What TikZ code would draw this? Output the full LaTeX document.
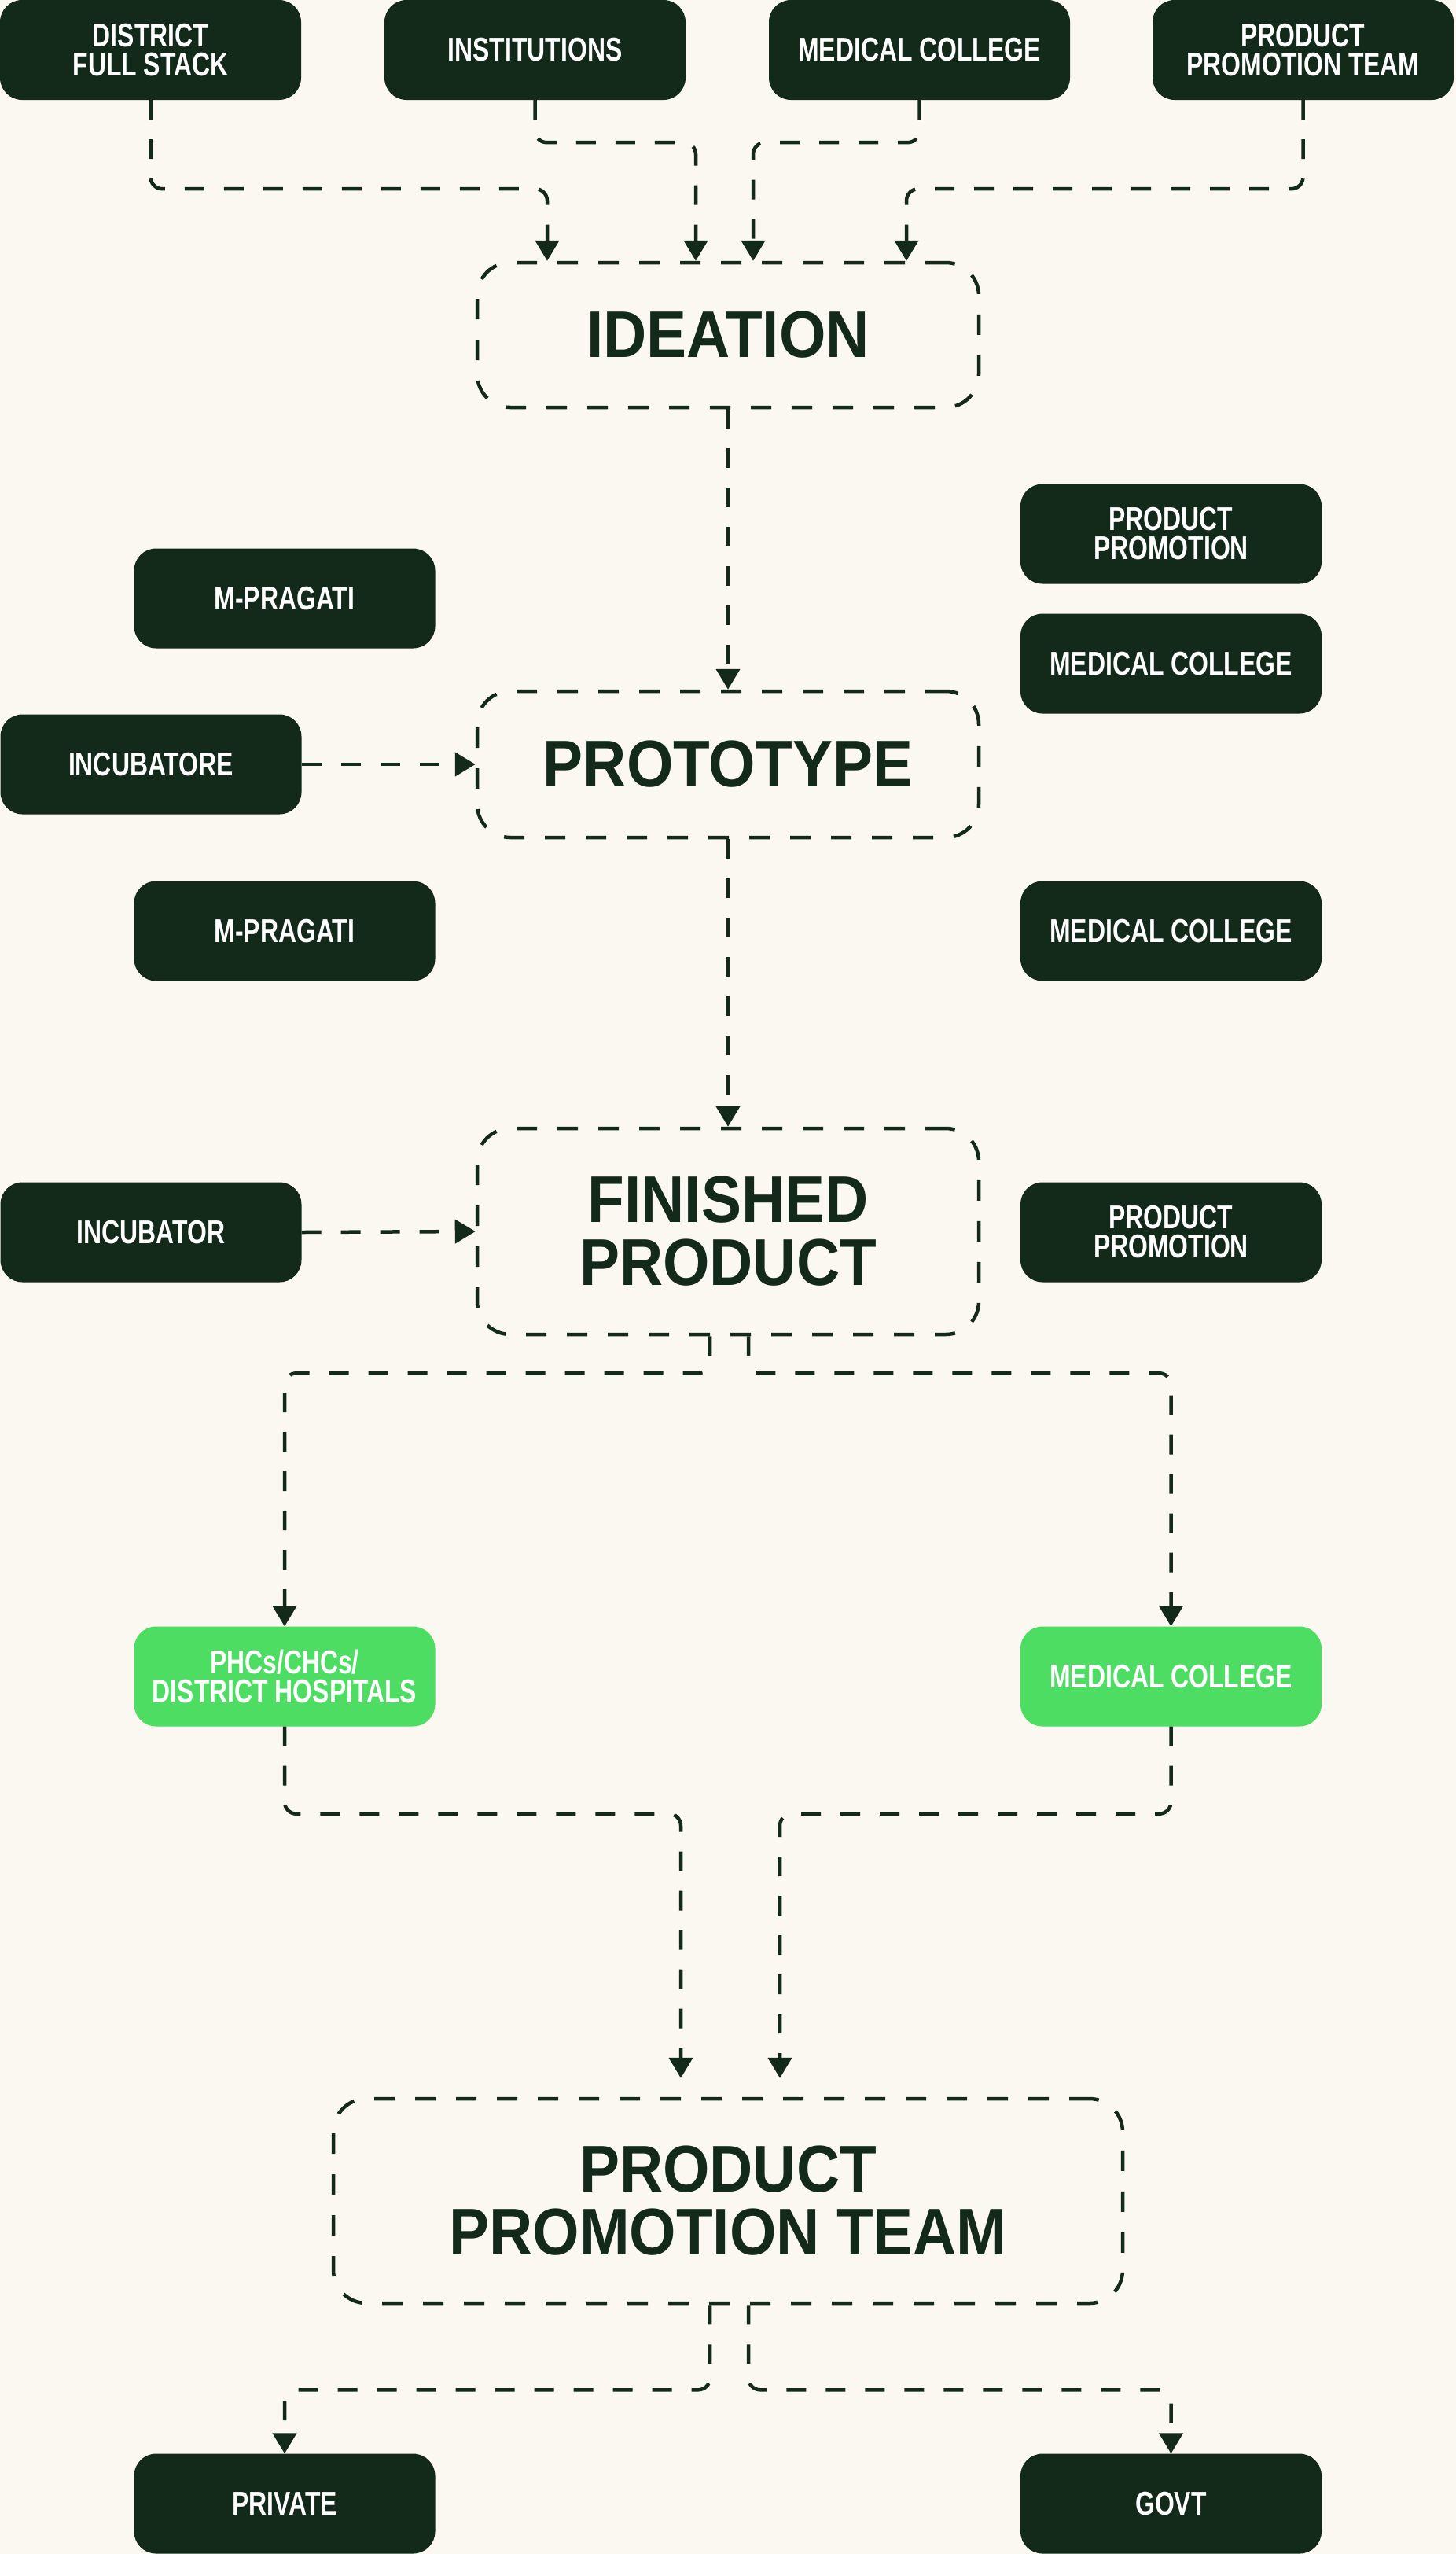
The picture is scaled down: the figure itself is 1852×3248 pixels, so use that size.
\documentclass[tikz,border=0pt]{standalone}
\usepackage{fontspec}
\setmainfont{Liberation Sans}
\newfontfamily\condfont[FakeStretch=0.76,UprightFont={* Bold}]{Liberation Sans}
\newfontfamily\bigfont[FakeStretch=0.91,UprightFont={* Bold}]{Liberation Sans}
\usetikzlibrary{arrows.meta}
\definecolor{dark}{HTML}{132A1B}
\definecolor{leaf}{HTML}{4CDD62}
\definecolor{paper}{HTML}{FBF7F1}
\tikzset{
  darkbox/.style={fill=dark, rounded corners=28pt, minimum width=383pt, minimum height=127pt,
    text=white, font=\condfont\fontsize{42}{37}\selectfont, align=center, inner sep=0pt},
  greenbox/.style={darkbox, fill=leaf},
  stage/.style={draw=dark, line width=4.5pt, dash pattern=on 26pt off 26pt, rounded corners=42pt,
    minimum width=638pt, text=dark, font=\bigfont\fontsize{84}{80}\selectfont, align=center, inner sep=0pt},
  conn/.style={draw=dark, line width=4.5pt, dash pattern=on 25pt off 25pt, rounded corners=15pt,
    -{Triangle[width=30pt,length=26pt]}}
}
\begin{document}
\begin{tikzpicture}[x=1pt,y=-1pt]
\fill[paper] (0,0) rectangle (1852,3248);
\useasboundingbox (0,0) rectangle (1852,3248);
% top sources
\node[darkbox] (dfs) at (191.5,63.5) {DISTRICT\\FULL STACK};
\node[darkbox] (inst) at (680.5,63.5) {INSTITUTIONS};
\node[darkbox] (mc0) at (1169.5,63.5) {MEDICAL COLLEGE};
\node[darkbox] (ppt0) at (1657.5,63.5) {PRODUCT\\PROMOTION TEAM};
% stages
\node[stage, minimum height=184pt] (idea) at (926,426) {IDEATION};
\node[stage, minimum height=186pt] (proto) at (926,972) {PROTOTYPE};
\node[stage, minimum height=262pt] (fin) at (926,1566) {FINISHED\\PRODUCT};
\node[stage, minimum height=260pt, minimum width=1004pt] (ppt) at (926,2799) {PRODUCT\\PROMOTION TEAM};
% side boxes
\node[darkbox] (mp1) at (362,761) {M-PRAGATI};
\node[darkbox] (pp1) at (1489.5,679) {PRODUCT\\PROMOTION};
\node[darkbox] (mc1) at (1489.5,844) {MEDICAL COLLEGE};
\node[darkbox] (inc1) at (192,972) {INCUBATORE};
\node[darkbox] (mp2) at (362,1184) {M-PRAGATI};
\node[darkbox] (mc2) at (1489.5,1184) {MEDICAL COLLEGE};
\node[darkbox] (inc2) at (192,1567) {INCUBATOR};
\node[darkbox] (pp2) at (1489.5,1567) {PRODUCT\\PROMOTION};
\node[greenbox] (phc) at (362,2132) {PHCs/CHCs/\\DISTRICT HOSPITALS};
\node[greenbox] (mcg) at (1489.5,2132) {MEDICAL COLLEGE};
\node[darkbox] (priv) at (362,3184) {PRIVATE};
\node[darkbox] (govt) at (1489.5,3184) {GOVT};
% connectors
\draw[conn] (dfs.south) -- ++(0,113) -| ([xshift=-230pt]idea.north);
\draw[conn] (inst.south) -- ++(0,54) -| ([xshift=-41pt]idea.north);
\draw[conn] (mc0.south) -- ++(0,54) -| ([xshift=32pt]idea.north);
\draw[conn] (ppt0.south) -- ++(0,113) -| ([xshift=227pt]idea.north);
\draw[conn] (idea.south) -- (proto.north);
\draw[conn] (inc1.east) -- (proto.west);
\draw[conn] (proto.south) -- (fin.north);
\draw[conn] (inc2.east) -- (fin.west);
\draw[conn] ([xshift=-23pt]fin.south) -- ++(0,47) -| (phc.north);
\draw[conn] ([xshift=26pt]fin.south) -- ++(0,47) -| (mcg.north);
\draw[conn, shorten >=24pt] (phc.south) -- ++(0,111) -| ([xshift=-60pt]ppt.north);
\draw[conn, shorten >=24pt] (mcg.south) -- ++(0,111) -| ([xshift=66pt]ppt.north);
\draw[conn] ([xshift=-23pt]ppt.south) -- ++(0,108) -| (priv.north);
\draw[conn] ([xshift=26pt]ppt.south) -- ++(0,108) -| (govt.north);
\end{tikzpicture}
\end{document}
